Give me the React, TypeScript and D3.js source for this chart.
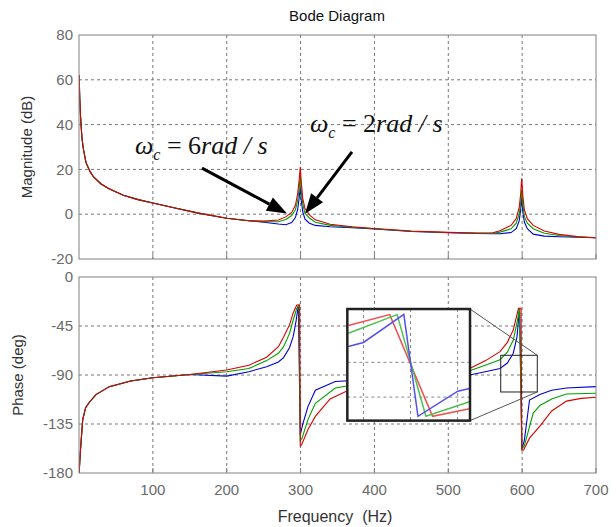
import React, { useEffect, useRef } from 'react';
import * as d3 from 'd3';

// magnitude (dB), [Hz, dB]
const magCommonLow: [number, number][] = [
  [0.2, 62], [1, 52], [2, 44], [4, 34], [6, 29], [9.5, 23], [15, 19], [20, 16.5], [30, 13.5],
  [40, 11.5], [60, 8.5], [80, 6.5], [100, 5], [130, 2.8], [160, 0.6], [200, -1.8], [230, -2.9],
];
const magRed: [number, number][] = [
  ...magCommonLow, [250, -3.1], [270, -2.6], [280, -1.2], [288, 0.8], [293, 4], [296, 9], [298, 15],
  [299.6, 21], [301, 14], [303, 7], [306, 2.5], [312, -0.3], [320, -2.5], [340, -4.5], [370, -5.6],
  [400, -6.4], [450, -7.5], [500, -8.1], [540, -8.4], [560, -8.3], [570, -7.4], [585, -5], [592, -2],
  [596, 3], [598, 9], [599.4, 16], [601, 8], [603, 2], [607, -2], [615, -5], [630, -7.5], [650, -9],
  [675, -10], [700, -10.5],
];
const magGreen: [number, number][] = [
  ...magCommonLow, [250, -3.3], [270, -3.4], [280, -2.4], [288, -0.6], [293, 2], [296, 6], [298, 11],
  [299.6, 17], [301, 10], [303, 4.5], [306, 0.3], [312, -1.7], [320, -3.6], [340, -5], [370, -5.8],
  [400, -6.5], [450, -7.6], [500, -8.2], [540, -8.5], [560, -8.5], [570, -8], [585, -6.5], [592, -4],
  [596, 0], [598, 5], [599.4, 11], [601, 4], [603, -1], [607, -4], [615, -6.5], [630, -8.5],
  [650, -9.5], [675, -10.2], [700, -10.5],
];
const magBlue: [number, number][] = [
  ...magCommonLow, [250, -3.6], [270, -4.4], [280, -4.7], [288, -3.7], [293, -1.5], [296, 2], [298, 7],
  [299.6, 12], [301, 6], [303, 1], [306, -2.2], [312, -4], [320, -5], [340, -5.6], [370, -6],
  [400, -6.6], [450, -7.7], [500, -8.3], [540, -8.6], [560, -8.7], [570, -8.7], [585, -8.2],
  [592, -6.5], [596, -3], [598, 2], [599.4, 7.5], [601, 1], [603, -3.5], [607, -6.5], [615, -8.9],
  [630, -9.8], [650, -10.1], [675, -10.3], [700, -10.5],
];

// phase (deg), [Hz, deg]
const phCommonLow: [number, number][] = [
  [0.2, -180], [1, -170], [2, -159], [5, -131], [9, -120], [14, -115], [23, -108], [41, -100.7],
  [70, -95.5], [100, -92.5], [150, -89.5],
];
const phRed: [number, number][] = [
  ...phCommonLow, [200, -85.4], [230, -81], [254, -73.7], [270, -64], [277, -55], [285, -44],
  [290, -33], [294.8, -25.7], [298.8, -25.7], [299.6, -155], [301.5, -154], [310, -140], [320, -128],
  [340, -112], [362, -105], [400, -98], [450, -93], [500, -88], [529, -84], [550, -77], [570, -68.6],
  [580, -60], [588, -48.7], [595, -28.7], [598.5, -28.7], [599.6, -159], [602, -158.9], [610, -148],
  [624, -137], [640, -123], [660, -114], [680, -111.5], [700, -110.5],
];
const phGreen: [number, number][] = [
  ...phCommonLow, [200, -87], [230, -84], [254, -76.8], [270, -70], [277, -64], [285, -52],
  [290, -39.5], [294.8, -29], [297.8, -25.7], [299.6, -150], [302, -148], [310, -131], [320, -116],
  [347, -102], [380, -98], [450, -94], [500, -90], [529, -86], [550, -81], [570, -76], [580, -69],
  [588, -57.9], [593, -42], [596.5, -28.7], [599.6, -158], [603, -155], [615, -125], [624, -118],
  [640, -112], [660, -107.5], [700, -106.8],
];
const phBlue: [number, number][] = [
  ...phCommonLow, [200, -91], [230, -87], [254, -82.4], [270, -78], [277, -74], [285, -65],
  [290, -54.8], [294, -40], [297, -25.7], [299.6, -145], [303, -135], [310, -119], [320, -104],
  [347, -96], [400, -94], [450, -92], [500, -91], [529, -90], [550, -87], [570, -84], [580, -79],
  [588, -70], [593, -55], [596.5, -28.7], [599.6, -158], [603, -150], [610, -113], [624, -108],
  [640, -104], [660, -102], [700, -100.7],
];

// inset (magnified view near 600 Hz)
const insetRed: [number, number][] = [[571.4, -76.9], [588.1, -73.6], [605.4, -104.3], [620.3, -102]];
const insetGreen: [number, number][] = [[571.4, -79.2], [591.1, -73.6], [602.7, -104.3], [620.3, -99.9]];
const insetBlue: [number, number][] = [
  [571.4, -83.2], [577.5, -82], [593.8, -73.5], [599.5, -104.3], [615.6, -96.7], [620.3, -95.9],
];

const freqTicks = [100, 200, 300, 400, 500, 600, 700];
const magTicks = [-20, 0, 20, 40, 60, 80];
const phaseTicks = [-180, -135, -90, -45, 0];

const seriesColors = ['#d80000', '#00a000', '#0000d0'];

function App() {
  const ref = useRef<SVGSVGElement>(null);

  useEffect(() => {
    const svg = d3.select(ref.current);
    svg.selectAll('*').remove();

    const x = d3.scaleLinear().domain([0, 700]).range([79, 596]);
    const yMag = d3.scaleLinear().domain([-20, 80]).range([259, 35]);
    const yPh = d3.scaleLinear().domain([-180, 0]).range([473, 277]);
    const font = 'Arial, "Liberation Sans", sans-serif';

    const defs = svg.append('defs');
    defs.append('clipPath').attr('id', 'clipMag').append('rect')
      .attr('x', 79).attr('y', 35).attr('width', 517).attr('height', 224);
    defs.append('clipPath').attr('id', 'clipPh').append('rect')
      .attr('x', 79).attr('y', 277).attr('width', 517).attr('height', 196);

    const panel = (y: d3.ScaleLinear<number, number>, ticks: number[], clip: string, data: [number, number][][], xLabels: boolean) => {
      const [yb, yt] = y.range();
      const g = svg.append('g');
      g.append('rect').attr('x', 79).attr('y', yt).attr('width', 517).attr('height', yb - yt).attr('fill', '#fff');
      // grid
      g.selectAll('.vg').data(freqTicks.slice(0, -1)).enter().append('line')
        .attr('x1', d => x(d)).attr('x2', d => x(d)).attr('y1', yt).attr('y2', yb)
        .attr('stroke', '#777').attr('stroke-dasharray', '3,3').attr('stroke-width', 1);
      g.selectAll('.hg').data(ticks.slice(1, -1)).enter().append('line')
        .attr('x1', 79).attr('x2', 596).attr('y1', d => y(d)).attr('y2', d => y(d))
        .attr('stroke', '#777').attr('stroke-dasharray', '3,3').attr('stroke-width', 1);
      // curves
      const line = d3.line<[number, number]>().x(d => x(d[0])).y(d => y(d[1]));
      g.append('g').attr('clip-path', `url(#${clip})`).selectAll('path').data(data).enter().append('path')
        .attr('d', d => line(d)).attr('fill', 'none')
        .attr('stroke', (d, i) => seriesColors[2 - i]).attr('stroke-width', 1.1);
      // frame
      g.append('rect').attr('x', 79).attr('y', yt).attr('width', 517).attr('height', yb - yt)
        .attr('fill', 'none').attr('stroke', '#808080').attr('stroke-width', 1);
      // ticks
      g.selectAll('.xt').data(freqTicks).enter().append('line')
        .attr('x1', d => x(d)).attr('x2', d => x(d)).attr('y1', yb).attr('y2', yb - 5)
        .attr('stroke', '#808080');
      g.selectAll('.yl').data(ticks).enter().append('text')
        .attr('x', 73).attr('y', d => y(d)).attr('dy', '0.35em')
        .attr('text-anchor', 'end').attr('font-family', font).attr('font-size', 15)
        .attr('fill', '#6a6a6a').text(d => String(d));
      if (xLabels) {
        g.selectAll('.xl').data(freqTicks).enter().append('text')
          .attr('x', d => x(d)).attr('y', yb + 17).attr('dy', '0.35em')
          .attr('text-anchor', 'middle').attr('font-family', font).attr('font-size', 15)
          .attr('fill', '#6a6a6a').text(d => String(d));
      }
    };

    panel(yMag, magTicks, 'clipMag', [magBlue, magGreen, magRed], false);
    panel(yPh, phaseTicks, 'clipPh', [phBlue, phGreen, phRed], true);

    // titles
    svg.append('text').attr('x', 337).attr('y', 16).attr('dy', '0.35em').attr('text-anchor', 'middle')
      .attr('font-family', font).attr('font-size', 15).attr('fill', '#111').text('Bode Diagram');
    svg.append('text').attr('x', 335).attr('y', 516).attr('dy', '0.35em').attr('text-anchor', 'middle')
      .attr('font-family', font).attr('font-size', 16).attr('fill', '#333')
      .attr('xml:space', 'preserve').style('white-space', 'pre').text('Frequency  (Hz)');
    svg.append('text').attr('transform', 'translate(27,147) rotate(-90)').attr('dy', '0.35em')
      .attr('text-anchor', 'middle').attr('font-family', font).attr('font-size', 15).attr('fill', '#333')
      .text('Magnitude (dB)');
    svg.append('text').attr('transform', 'translate(18,375) rotate(-90)').attr('dy', '0.35em')
      .attr('text-anchor', 'middle').attr('font-family', font).attr('font-size', 15).attr('fill', '#333')
      .text('Phase (deg)');

    // annotations
    const serif = '"Liberation Serif", "Times New Roman", serif';
    const label = (fx: number, dbv: number, num: string) => {
      const t = svg.append('text').attr('x', x(fx)).attr('y', yMag(dbv))
        .attr('font-family', serif).attr('font-size', 26).attr('fill', '#111')
        .attr('xml:space', 'preserve').style('white-space', 'pre');
      t.append('tspan').attr('font-style', 'italic').text('ω');
      t.append('tspan').attr('font-style', 'italic').attr('font-size', 16).attr('dy', 6).text('c');
      t.append('tspan').attr('dy', -6).text(' = ' + num);
      t.append('tspan').attr('font-style', 'italic').text('rad / s');
    };
    label(75.8, 26.9, '6');
    label(312.7, 36.8, '2');

    const arrow = (f0: number, m0: number, f1: number, m1: number) => {
      const x0 = x(f0), y0 = yMag(m0), x1 = x(f1), y1 = yMag(m1);
      const a = Math.atan2(y1 - y0, x1 - x0);
      const L = 20, W = 7.5;
      const bx = x1 - L * Math.cos(a), by = y1 - L * Math.sin(a);
      svg.append('line').attr('x1', x0).attr('y1', y0).attr('x2', bx).attr('y2', by)
        .attr('stroke', '#000').attr('stroke-width', 3);
      svg.append('polygon')
        .attr('points', [[x1, y1], [bx + W * Math.sin(a), by - W * Math.cos(a)], [bx - W * Math.sin(a), by + W * Math.cos(a)]]
          .map(p => p.join(',')).join(' '))
        .attr('fill', '#000');
    };
    arrow(166.5, 20.6, 281.6, 0.3);
    arrow(369.6, 27.8, 306, 0.2);

    // zoom box and inset
    const zx = [571, 620.5], zy = [-71.9, -105.6];
    const ix = [363.3, 529.4], iy = [-29.4, -131.9];
    svg.append('rect').attr('x', x(zx[0])).attr('y', yPh(zy[0]))
      .attr('width', x(zx[1]) - x(zx[0])).attr('height', yPh(zy[1]) - yPh(zy[0]))
      .attr('fill', 'none').attr('stroke', '#222').attr('stroke-width', 1);
    svg.append('line').attr('x1', x(ix[1])).attr('y1', yPh(iy[0])).attr('x2', x(zx[1])).attr('y2', yPh(zy[0]))
      .attr('stroke', '#555').attr('stroke-width', 1);
    svg.append('line').attr('x1', x(ix[1])).attr('y1', yPh(iy[1])).attr('x2', x(zx[1])).attr('y2', yPh(zy[1]))
      .attr('stroke', '#555').attr('stroke-width', 1);

    const ax = d3.scaleLinear().domain(zx).range([x(ix[0]), x(ix[1])]);
    const ay = d3.scaleLinear().domain(zy).range([yPh(iy[0]), yPh(iy[1])]);
    const ins = svg.append('g');
    ins.append('rect').attr('x', ax(zx[0])).attr('y', ay(zy[0]))
      .attr('width', ax(zx[1]) - ax(zx[0])).attr('height', ay(zy[1]) - ay(zy[0])).attr('fill', '#fff');
    ins.selectAll('.ivg').data([577.5, 596.5, 615.5]).enter().append('line')
      .attr('x1', d => ax(d)).attr('x2', d => ax(d)).attr('y1', ay(zy[0])).attr('y2', ay(zy[1]))
      .attr('stroke', '#888').attr('stroke-dasharray', '3,3');
    ins.selectAll('.ihg').data([-88, -98.5]).enter().append('line')
      .attr('x1', ax(zx[0])).attr('x2', ax(zx[1])).attr('y1', d => ay(d)).attr('y2', d => ay(d))
      .attr('stroke', '#888').attr('stroke-dasharray', '3,3');
    const iline = d3.line<[number, number]>().x(d => ax(d[0])).y(d => ay(d[1]));
    ins.selectAll('path').data([insetRed, insetGreen, insetBlue]).enter().append('path')
      .attr('d', d => iline(d)).attr('fill', 'none')
      .attr('stroke', (d, i) => ['#f05050', '#50c050', '#5050f0'][i]).attr('stroke-width', 1.5);
    ins.append('rect').attr('x', ax(zx[0])).attr('y', ay(zy[0]))
      .attr('width', ax(zx[1]) - ax(zx[0])).attr('height', ay(zy[1]) - ay(zy[0]))
      .attr('fill', 'none').attr('stroke', '#222').attr('stroke-width', 2.5);
  }, []);

  return (
    <svg ref={ref} width={616} height={527}
      style={{ position: 'absolute', left: 0, top: 0, background: '#fff' }} />
  );
}

export default App;
